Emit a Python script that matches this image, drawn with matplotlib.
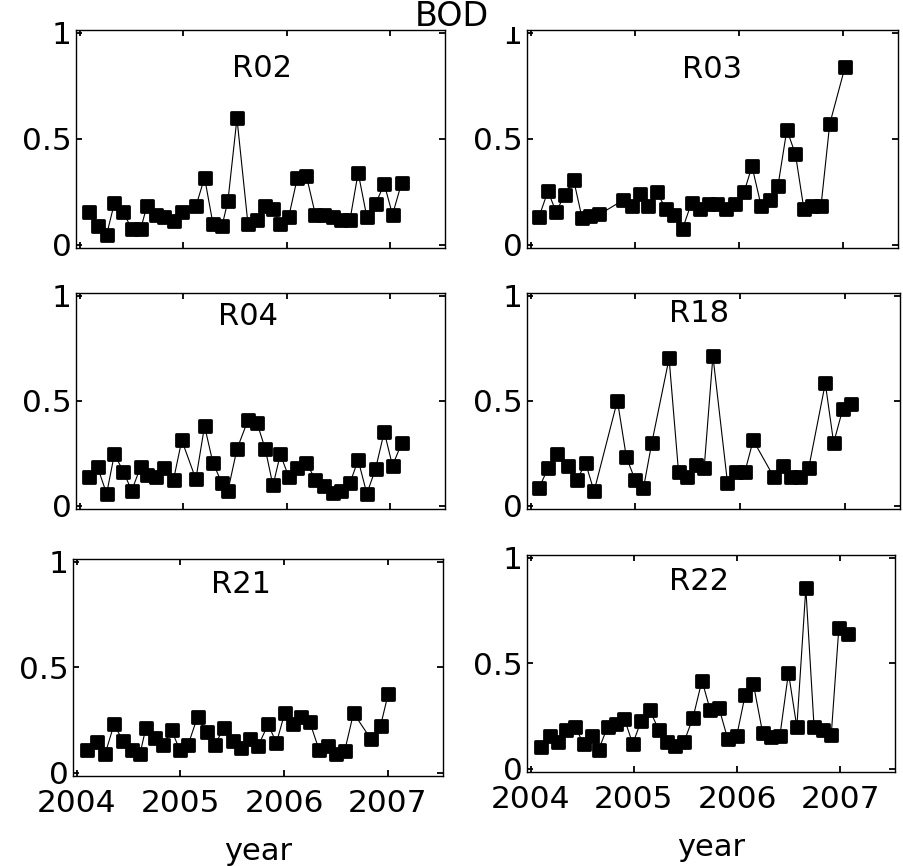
import matplotlib
matplotlib.use("Agg")
import matplotlib.pyplot as plt
from matplotlib.markers import MarkerStyle
from matplotlib.patches import Rectangle

plt.rcParams['font.family'] = ['DejaVu Sans']

# ---- BOD series per station (decimal year, value) ----
r02_year = [2004.087, 2004.174, 2004.261, 2004.336, 2004.423, 2004.503, 2004.590, 2004.649,
            2004.736, 2004.820, 2004.907, 2004.987, 2005.123, 2005.207, 2005.288, 2005.375,
            2005.433, 2005.520, 2005.626, 2005.713, 2005.794, 2005.868, 2005.939, 2006.020,
            2006.104, 2006.191, 2006.278, 2006.362, 2006.449, 2006.530, 2006.611, 2006.691,
            2006.775, 2006.859, 2006.943, 2007.023, 2007.110]
r02_bod = [0.152, 0.089, 0.047, 0.196, 0.152, 0.074, 0.074, 0.180, 0.141, 0.130, 0.110, 0.152,
           0.180, 0.316, 0.099, 0.086, 0.207, 0.595, 0.099, 0.114, 0.183, 0.168, 0.099, 0.130,
           0.316, 0.324, 0.141, 0.141, 0.130, 0.114, 0.114, 0.339, 0.130, 0.192, 0.286, 0.141,
           0.290]

r03_year = [2004.079, 2004.166, 2004.245, 2004.328, 2004.414, 2004.494, 2004.574, 2004.660,
            2004.886, 2004.972, 2005.052, 2005.132, 2005.212, 2005.298, 2005.378, 2005.460,
            2005.546, 2005.627, 2005.713, 2005.795, 2005.881, 2005.962, 2006.051, 2006.127,
            2006.216, 2006.297, 2006.376, 2006.462, 2006.545, 2006.625, 2006.704, 2006.790,
            2006.874, 2007.020]
r03_bod = [0.129, 0.252, 0.154, 0.236, 0.303, 0.126, 0.137, 0.142, 0.209, 0.181, 0.239, 0.181,
           0.248, 0.170, 0.138, 0.075, 0.197, 0.170, 0.192, 0.192, 0.170, 0.192, 0.248, 0.369,
           0.181, 0.208, 0.275, 0.542, 0.425, 0.170, 0.181, 0.181, 0.569, 0.836]

r04_year = r02_year
r04_bod = [0.138, 0.182, 0.057, 0.245, 0.162, 0.071, 0.186, 0.146, 0.135, 0.178, 0.123, 0.311,
           0.126, 0.379, 0.204, 0.107, 0.071, 0.269, 0.406, 0.395, 0.269, 0.096, 0.244, 0.138,
           0.178, 0.204, 0.123, 0.094, 0.060, 0.071, 0.107, 0.217, 0.057, 0.175, 0.351, 0.190,
           0.296]

r18_year = [2004.079, 2004.166, 2004.249, 2004.360, 2004.440, 2004.526, 2004.606, 2004.829,
            2004.915, 2004.998, 2005.078, 2005.158, 2005.323, 2005.413, 2005.493, 2005.579,
            2005.658, 2005.742, 2005.881, 2005.962, 2006.048, 2006.127, 2006.322, 2006.408,
            2006.488, 2006.574, 2006.657, 2006.816, 2006.896, 2006.982, 2007.065]
r18_bod = [0.083, 0.178, 0.244, 0.190, 0.123, 0.201, 0.068, 0.500, 0.230, 0.123, 0.083, 0.299,
           0.701, 0.162, 0.135, 0.193, 0.178, 0.712, 0.110, 0.162, 0.162, 0.311, 0.138, 0.190,
           0.138, 0.138, 0.178, 0.582, 0.299, 0.458, 0.484]

r21_year = [2004.104, 2004.194, 2004.274, 2004.361, 2004.444, 2004.530, 2004.610, 2004.668,
            2004.755, 2004.835, 2004.915, 2004.995, 2005.075, 2005.165, 2005.252, 2005.332,
            2005.418, 2005.508, 2005.588, 2005.668, 2005.748, 2005.845, 2005.925, 2006.005,
            2006.085, 2006.165, 2006.245, 2006.335, 2006.421, 2006.502, 2006.582, 2006.668,
            2006.838, 2006.928, 2007.002]
r21_bod = [0.109, 0.144, 0.088, 0.229, 0.152, 0.106, 0.088, 0.213, 0.162, 0.133, 0.200, 0.106,
           0.133, 0.264, 0.194, 0.133, 0.210, 0.149, 0.117, 0.157, 0.125, 0.229, 0.141, 0.282,
           0.232, 0.264, 0.242, 0.109, 0.125, 0.088, 0.101, 0.282, 0.157, 0.221, 0.373]

r22_year = [2004.096, 2004.183, 2004.267, 2004.347, 2004.434, 2004.514, 2004.594, 2004.658,
            2004.745, 2004.829, 2004.909, 2004.989, 2005.069, 2005.156, 2005.243, 2005.323,
            2005.403, 2005.487, 2005.573, 2005.660, 2005.741, 2005.824, 2005.910, 2005.997,
            2006.078, 2006.158, 2006.248, 2006.328, 2006.415, 2006.498, 2006.579, 2006.666,
            2006.746, 2006.832, 2006.912, 2006.986, 2007.076]
r22_bod = [0.104, 0.156, 0.125, 0.181, 0.196, 0.116, 0.156, 0.088, 0.197, 0.212, 0.236, 0.117,
           0.224, 0.276, 0.181, 0.128, 0.107, 0.128, 0.241, 0.417, 0.276, 0.289, 0.140, 0.156,
           0.348, 0.401, 0.169, 0.152, 0.156, 0.454, 0.197, 0.854, 0.197, 0.181, 0.157, 0.666,
           0.637]

stations = ["R02", "R03", "R04", "R18", "R21", "R22"]
series = [(r02_year, r02_bod), (r03_year, r03_bod), (r04_year, r04_bod),
          (r18_year, r18_bod), (r21_year, r21_bod), (r22_year, r22_bod)]

year_ticks = [2004, 2005, 2006, 2007]
bod_ticks = [0, 0.5, 1]
bod_tick_labels = ["0", "0.5", "1"]

# ---- layout: axes frames in pixels (left, top, right, bottom) ----
W, H = 904, 866
frames = [(76, 30, 445, 248), (527, 30, 898, 248),
          (76, 293, 445, 509), (527, 293, 900, 509),
          (73, 559, 443, 776), (527, 555, 895, 772)]
label_pos = [(0.505, 0.784), (0.498, 0.780), (0.467, 0.851),
             (0.462, 0.866), (0.453, 0.843), (0.468, 0.838)]

fig = plt.figure(figsize=(W / 100, H / 100), dpi=100)
fig.patch.set_facecolor("white")

marker = MarkerStyle("s", joinstyle="round")

for i, (name, (yrs, vals)) in enumerate(zip(stations, series)):
    l, t, r, b = frames[i]
    ax = fig.add_axes([l / W, 1 - b / H, (r - l) / W, (b - t) / H])
    ax.plot(yrs, vals, color="black", linewidth=0.8,
            marker=marker, markersize=8.5, markeredgewidth=2,
            markerfacecolor="black", markeredgecolor="black")
    ax.set_xlim(2003.965, 2007.53)
    ax.set_ylim(-0.016, 1.012)
    ax.set_xticks(year_ticks)
    ax.set_yticks(bod_ticks)
    ax.set_yticklabels(bod_tick_labels)
    for s in ax.spines.values():
        s.set_linewidth(1.0)
    ax.tick_params(direction="in", length=4, width=1.3, top=True, right=True,
                   labelsize=22.5)
    ax.tick_params(axis="y", pad=3)
    ax.tick_params(axis="x", pad=9)
    if i < 4:
        ax.set_xticklabels([])
    else:
        ax.set_xticklabels([str(y) for y in year_ticks])
        ax.set_xlabel("year", fontsize=22, labelpad=14)
    lx, ly = label_pos[i]
    ax.text(lx, ly, name, transform=ax.transAxes, ha="center", va="baseline",
            fontsize=22)

# title with a white backdrop
fig.patches.append(Rectangle((395 / W, 1 - 27 / H), 125 / W, 27 / H,
                             transform=fig.transFigure, facecolor="white",
                             edgecolor="none", zorder=2.5))
fig.text(452 / W, 1 - 26 / H, "BOD", ha="center", va="baseline",
         fontsize=24, zorder=3)

fig.savefig("out.png", dpi=100)
